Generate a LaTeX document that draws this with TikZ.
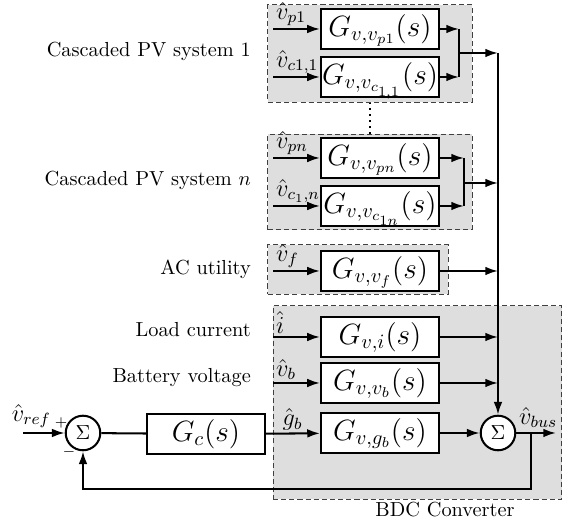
\documentclass[tikz,border=0pt]{standalone}
\usetikzlibrary{arrows.meta,positioning}
\begin{document}
\begin{tikzpicture}[
  x=0.4915pt, y=-0.4915pt,
  blk/.style={draw, line width=1pt, fill=white, minimum width=58pt, minimum height=19.7pt, inner sep=0pt, text height=10.8pt, text depth=3.6pt, font=\Large},
  grp/.style={draw=black!75, dash pattern=on 2.5pt off 1.5pt, line width=0.5pt, fill=black!13, inner sep=0pt},
  sumnode/.style={draw, circle, line width=1pt, fill=white, minimum size=17pt, inner sep=0pt},
  lab/.style={above right, inner sep=1pt, font=\large},
  sgn/.style={inner sep=0pt, font=\scriptsize},
  txt/.style={anchor=base east},
  arrow/.style={-{Latex[length=2.2mm, width=1.5mm]}, line width=1pt},
  wire/.style={line width=1pt}
]
\useasboundingbox (0,0) rectangle (567,523);
% grey groups
\node[grp, minimum width=100.3pt, minimum height=47.7pt] (pv1) at (370,53.5) {};
\node[grp, minimum width=100.3pt, minimum height=46.7pt] (pvn) at (370,182) {};
\node[grp, minimum width=88.5pt, minimum height=24.1pt] (ac) at (358,269.5) {};
\node[grp, minimum width=142pt, minimum height=94.9pt] (bdc) at (417.5,402.5) {};
\draw[dotted, line width=0.9pt] (pv1.south) -- (pvn.north);
% blocks
\node[blk] (gvp1) at (380,29) {$G_{v,v_{p1}}(s)$};
\node[blk] (gvc11) at (380,77) {$G_{v,v_{c_{1,1}}}(s)$};
\node[blk] (gvpn) at (380,158) {$G_{v,v_{pn}}(s)$};
\node[blk] (gvc1n) at (380,206) {$G_{v,v_{c_{1n}}}(s)$};
\node[blk] (gvf) at (380,271) {$G_{v,v_f}(s)$};
\node[blk] (gvi) at (380,337) {$G_{v,i}(s)$};
\node[blk] (gvb) at (380,383) {$G_{v,v_b}(s)$};
\node[blk] (gvg) at (380,433) {$G_{v,g_b}(s)$};
\node[blk] (gc) at (206,434) {$G_c(s)$};
\node[sumnode] (sum1) at (83,433) {$\Sigma$};
\node[sumnode] (sum2) at (498,433) {$\Sigma$};
% side texts
\node[txt] (t1) at (258,57) {Cascaded PV system 1};
\node[txt] (tn) at (258,186) {Cascaded PV system $n$};
\node[txt] (tac) at (258,275) {AC utility};
\node[txt] (tload) at (258,337) {Load current};
\node[txt] (tbat) at (258,383) {Battery voltage};
\node[anchor=base] (tbdc) at (445,517) {BDC Converter};
% inputs
\coordinate (inx) at (273,0);
\draw[arrow] (gvp1 -| inx) -- node[lab, pos=0] (lvp1) {$\hat v_{p1}$} (gvp1);
\draw[arrow] (gvc11 -| inx) -- node[lab, pos=0] (lvc11) {$\hat v_{c1,1}$} (gvc11);
\draw[arrow] (gvpn -| inx) -- node[lab, pos=0] (lvpn) {$\hat v_{pn}$} (gvpn);
\draw[arrow] (gvc1n -| inx) -- node[lab, pos=0] (lvc1n) {$\hat v_{c_1,n}$} (gvc1n);
\draw[arrow] (gvf -| inx) -- node[lab, pos=0] (lvf) {$\hat v_f$} (gvf);
\draw[arrow] (gvi -| inx) -- node[lab, pos=0] (li) {$\hat i$} (gvi);
\draw[arrow] (gvb -| inx) -- node[lab, pos=0] (lvb) {$\hat v_b$} (gvb);
% outputs to the bus line
\coordinate (m1) at (459,53);
\coordinate (m2) at (464,183);
\draw[arrow] (gvp1) -- (gvp1 -| m1);
\draw[arrow] (gvc11) -- (gvc11 -| m1);
\draw[wire] (gvp1 -| m1) -- (gvc11 -| m1);
\draw[arrow] (m1) -- (m1 -| sum2);
\draw[arrow] (gvpn) -- (gvpn -| m2);
\draw[arrow] (gvc1n) -- (gvc1n -| m2);
\draw[wire] (gvpn -| m2) -- (gvc1n -| m2);
\draw[arrow] (m2) -- (m2 -| sum2);
\draw[arrow] (gvf) -- (gvf -| sum2);
\draw[arrow] (gvi) -- (gvi -| sum2);
\draw[arrow] (gvb) -- (gvb -| sum2);
\draw[arrow] (m1 -| sum2) -- (sum2);
% control loop
\coordinate (ref) at (23,433);
\coordinate (out) at (556,433);
\coordinate (fb) at (531,489);
\draw[arrow] (ref) -- node[above, pos=0.2, inner sep=2pt, font=\large] (lref) {$\hat v_{ref}$} (sum1);
\node[sgn] (plus) at (61,423) {$+$};
\node[sgn] (minus) at (69,452) {$-$};
\draw[wire] (sum1) -- (gc);
\draw[arrow] (gc) -- node[lab, pos=0.25] (lgb) {$\hat g_b$} (gvg);
\draw[arrow] (gvg) -- (sum2);
\draw[arrow] (sum2) -- node[above, pos=0.55, inner sep=2pt, font=\large] (lbus) {$\hat v_{bus}$} (out);
\draw[arrow] (sum2 -| fb) -- (fb) -- (fb -| sum1) -- (sum1);
\end{tikzpicture}
\end{document}
